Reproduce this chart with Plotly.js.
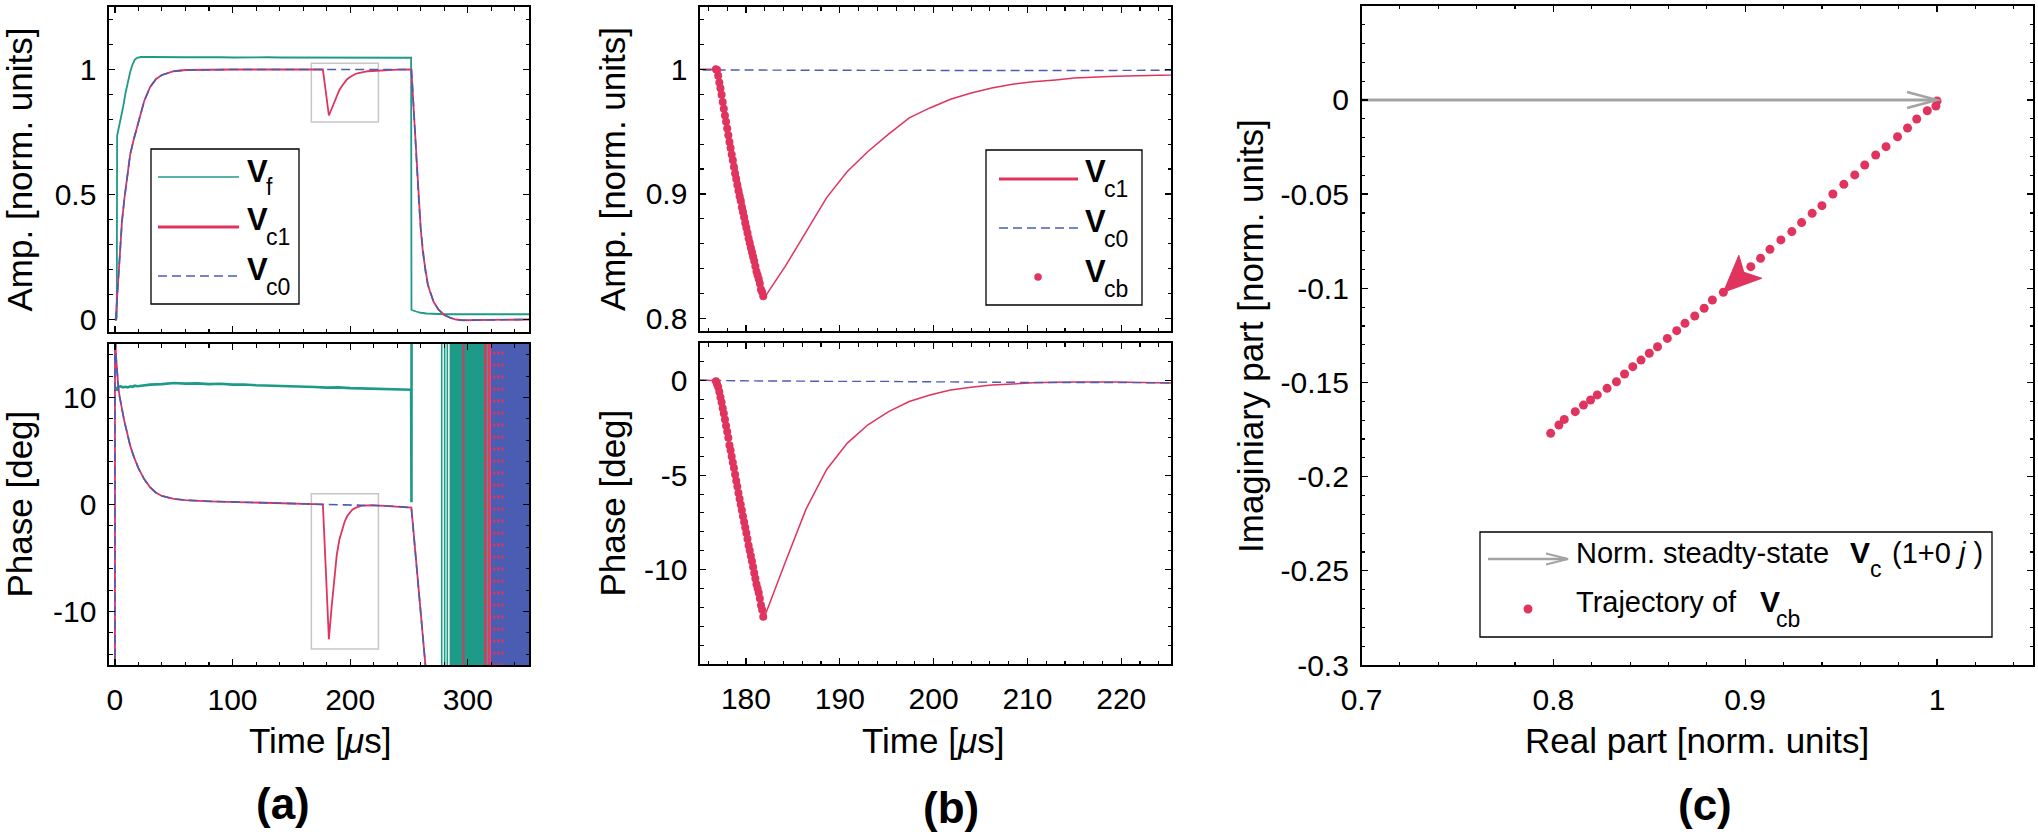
<!DOCTYPE html>
<html>
<head>
<meta charset="utf-8">
<script src="https://cdn.plot.ly/plotly-3.0.1.min.js"></script>
<style>html,body{margin:0;padding:0;background:#fff;}#chart{width:2038px;height:838px;}</style>
</head>
<body>
<div id="chart"></div>
<script>
// ---------- cavity voltages: common time base (µs) ----------
const tC = [0, 0.15, 0.3, 0.4, 0.7, 1, 2, 3, 4, 6, 8, 10, 13, 16, 20, 25, 30, 35, 40, 50, 60, 80, 100, 120, 150,
  175.2, 176.8, 179, 181.9, 184.2, 186.4, 188.6, 190.8, 193, 195.2, 197.4, 199.6, 201.8, 204, 206.2, 208.4, 210.6, 213, 215, 219.4, 222, 225.4,
  230, 240, 252, 253, 254, 255, 256.5, 258, 260, 262, 264, 266, 268, 271, 275, 280, 285, 290, 295, 300, 310, 330, 352];

// unloaded cavity voltage Vc0
const vc0Amp = [0, 0, 0, 0, 0, 0.02, 0.1, 0.19, 0.27, 0.39, 0.48, 0.56, 0.66, 0.72, 0.79, 0.875, 0.93, 0.962, 0.978, 0.993, 0.998, 1, 1, 1, 1,
  1, 1, 0.9997, 0.9994, 0.9993, 0.9995, 0.9992, 0.9993, 0.9991, 0.9993, 0.9991, 0.9992, 0.999, 0.9991, 0.999, 0.9992, 0.999, 0.9991, 0.999, 0.9991, 0.9994, 1.0003,
  1, 1, 1, 0.93, 0.84, 0.76, 0.64, 0.5, 0.36, 0.26, 0.19, 0.14, 0.11, 0.07, 0.04, 0.018, 0.007, 0, -0.003, -0.003, -0.001, 0, 0];
const vc0Phase = [-170, 170, -165, 15.5, 14.6, 13.8, 12.0, 10.9, 10.1, 8.9, 7.8, 6.9, 5.5, 4.5, 3.4, 2.35, 1.6, 1.1, 0.8, 0.52, 0.4, 0.3, 0.23, 0.17, 0.08,
  0.03, 0.01, 0, -0.01, 0, -0.02, -0.03, -0.02, -0.04, -0.03, -0.05, -0.04, -0.06, -0.07, -0.06, -0.08, -0.09, -0.08, -0.1, -0.09, -0.1, -0.1,
  -0.12, -0.18, -0.3, -1.5, -2.8, -4.0, -5.8, -7.7, -10.1, -12.6, -15.1, -17.6, -20, -23.7, -28.6, -34.8, null, null, null, null, null, null, null];

// beam-loaded cavity voltage Vc1
const vc1Amp = [0, 0, 0, 0, 0, 0.02, 0.1, 0.19, 0.27, 0.39, 0.48, 0.56, 0.66, 0.72, 0.79, 0.875, 0.93, 0.962, 0.978, 0.993, 0.998, 1, 1, 1, 1,
  1, 1, 0.921, 0.816, 0.842, 0.870, 0.897, 0.918, 0.934, 0.948, 0.961, 0.969, 0.976, 0.981, 0.985, 0.988, 0.990, 0.9915, 0.993, 0.9944, 0.995, 0.9963,
  0.998, 0.9995, 1, 0.93, 0.84, 0.76, 0.64, 0.5, 0.36, 0.26, 0.19, 0.14, 0.11, 0.07, 0.04, 0.018, 0.007, 0, -0.003, -0.003, -0.001, 0, 0];
const vc1Phase = [-170, 170, -165, 15.5, 14.6, 13.8, 12.0, 10.9, 10.1, 8.9, 7.8, 6.9, 5.5, 4.5, 3.4, 2.35, 1.6, 1.1, 0.8, 0.52, 0.4, 0.3, 0.23, 0.17, 0.08,
  0.03, 0.01, -5.4, -12.6, -9.6, -6.8, -4.7, -3.3, -2.33, -1.63, -1.1, -0.75, -0.49, -0.34, -0.23, -0.16, -0.11, -0.08, -0.06, -0.07, -0.08, -0.1,
  -0.12, -0.18, -0.3, -1.5, -2.8, -4.0, -5.8, -7.7, -10.1, -12.6, -15.1, -17.6, -20, -23.7, -28.6, -34.8, null, null, null, null, null, null, null];

// ---------- forward voltage Vf ----------
const tF = [0, 1.2, 1.6, 1.9, 3, 5, 7, 9, 11, 13, 15, 17, 19, 22, 30, 40, 50, 60, 70, 80, 90, 100, 110, 120, 130, 140, 150, 160, 170, 180,
  190, 200, 210, 220, 230, 240, 251.8, 252.1, 252.4, 256, 260, 265, 270, 280, 300, 352];
const vfAmp = [0, 0, 0.01, 0.735, 0.76, 0.80, 0.85, 0.905, 0.95, 0.99, 1.02, 1.04, 1.047, 1.05, 1.05, 1.049, 1.05, 1.049, 1.049, 1.05, 1.049, 1.048,
  1.049, 1.048, 1.049, 1.048, 1.048, 1.049, 1.048, 1.047, 1.048, 1.048, 1.047, 1.048, 1.047, 1.047, 1.047, 0.04, 0.038, 0.032, 0.027, 0.024, 0.022, 0.021, 0.021, 0.021];
const vfPhase = [null, null, 10.6, 10.9, 11.0, 11.05, 10.95, 11.0, 10.95, 11.05, 11.0, 11.1, 11.05, 11.1, 11.2, 11.25, 11.35, 11.3, 11.32, 11.25, 11.28,
  11.2, 11.22, 11.15, 11.12, 11.05, 11.08, 11.0, 10.98, 10.92, 10.95, 10.88, 10.85, 10.78, 10.8, 10.74, 10.72, 0.2, 60, null, null, null, null, null, null, null];

// ---------- phase noise once the field has decayed ----------
const wrapLimits = [-180, 180];
const vfWrapT = [277.8, 280.3, 282.6];
const vfNoiseSpan = [284.5, 316.5];
const vc1WrapT = [296.3, 314.6, 317.2, 318.8];
const vc1StreakT = [322.5, 326, 329.5];
const vc0NoiseSpan = [319.5, 353];

// ---------- window enlarged in (b) ----------
const zoomT = [167, 224];
const zoomAmp = [0.79, 1.025];
const zoomPhase = [-13.5, 1.0];

// ---------- beam-induced voltage Vcb samples ----------
const cbT = [176.8, 176.92, 177.04, 177.16, 177.28, 177.4, 177.52, 177.64, 177.76, 177.88, 178.0, 178.12, 178.24, 178.36, 178.48,
  178.6, 178.72, 178.84, 178.96, 179.08, 179.2, 179.32, 179.44, 179.56, 179.68, 179.8, 179.92, 180.04, 180.16, 180.28, 180.4,
  180.52, 180.64, 180.76, 180.88, 181.0, 181.12, 181.24, 181.36, 181.48, 181.6, 181.72, 181.84];
const cbRe = [1.0, 0.9994, 0.9949, 0.9894, 0.9846, 0.9794, 0.9734, 0.968, 0.9623, 0.9571, 0.9514, 0.9457, 0.94, 0.9349, 0.9294,
  0.9243, 0.9186, 0.9129, 0.908, 0.9029, 0.8977, 0.8929, 0.8886, 0.8829, 0.8786, 0.8737, 0.8686, 0.8643, 0.8594, 0.8543, 0.85,
  0.8457, 0.8414, 0.8371, 0.8329, 0.828, 0.8229, 0.8194, 0.8157, 0.8114, 0.8057, 0.8029, 0.7986];
const cbIm = [-0.0005, -0.0032, -0.0057, -0.0101, -0.0149, -0.0195, -0.0248, -0.0292, -0.0345, -0.0398, -0.0448, -0.0499, -0.0561, -0.0602, -0.0651,
  -0.0699, -0.0743, -0.0793, -0.0841, -0.0885, -0.0935, -0.0977, -0.1021, -0.1062, -0.1106, -0.1147, -0.1186, -0.1225, -0.1266, -0.131, -0.1345,
  -0.1381, -0.1416, -0.1455, -0.1496, -0.1531, -0.1566, -0.1593, -0.162, -0.1655, -0.1696, -0.1726, -0.177];
const arrowSample = 22;   // trajectory sample carrying the direction arrow

// normalised steady-state phasor 1 + 0j
const ssRe = [0, 1];
const ssIm = [0, 0];

// ---------- tick labels ----------
const timeTicksA = [0, 100, 200, 300];
const timeTicksB = [180, 190, 200, 210, 220];
const ampTicksA = [0, 0.5, 1],  ampLabelsA = ['0', '0.5', '1'];
const phaseTicksA = [-10, 0, 10], phaseLabelsA = ['-10', '0', '10'];
const ampTicksB = [0.8, 0.9, 1], ampLabelsB = ['0.8', '0.9', '1'];
const phaseTicksB = [-10, -5, 0], phaseLabelsB = ['-10', '-5', '0'];
const reTicks = [0.7, 0.8, 0.9, 1], reLabels = ['0.7', '0.8', '0.9', '1'];
const imTicks = [-0.3, -0.25, -0.2, -0.15, -0.1, -0.05, 0], imLabels = ['-0.3', '-0.25', '-0.2', '-0.15', '-0.1', '-0.05', '0'];

// ---------- styling ----------
const W = 2038, H = 838;
const FONT = 'Liberation Sans, Arial, Helvetica, sans-serif';
const TEAL = '#1e9a88', CRIMSON = '#e0335e', BLUE = '#4a5db3';
const GRAYBOX = '#c6c6c6', GRAYARROW = '#a3a3a3';
const DASH = '9px,5px';
const px = v => v / W;
const py = v => 1 - v / H;

// magnitude / phase of the trajectory samples for panel (b)
const cbAmp = cbRe.map((r, i) => Math.hypot(r, cbIm[i]));
const cbPhase = cbRe.map((r, i) => Math.atan2(cbIm[i], r) * 180 / Math.PI);

function wraps(ts) {
  const x = [], y = [];
  ts.forEach(t => { x.push(t, t, null); y.push(wrapLimits[0], wrapLimits[1], null); });
  return { x, y };
}
function line(x, y, xa, ya, color, width, dash) {
  return { type: 'scatter', mode: 'lines', x, y, xaxis: xa, yaxis: ya, hoverinfo: 'skip',
           line: { color, width, dash: dash || 'solid' }, connectgaps: false };
}

const vfW = wraps(vfWrapT), vc1W = wraps(vc1WrapT), vc1S = wraps(vc1StreakT);

const traces = [
  // (a) amplitude
  line(tF, vfAmp, 'x', 'y', TEAL, 1.8),
  line(tC, vc1Amp, 'x', 'y', CRIMSON, 1.8),
  line(tC, vc0Amp, 'x', 'y', BLUE, 1.6, DASH),
  // (a) phase
  line(tF, vfPhase, 'x2', 'y2', TEAL, 2.6),
  line(vfW.x, vfW.y, 'x2', 'y2', TEAL, 1.6),
  line(tC, vc1Phase, 'x2', 'y2', CRIMSON, 1.8),
  line(vc1W.x, vc1W.y, 'x2', 'y2', CRIMSON, 1.8),
  line(tC, vc0Phase, 'x2', 'y2', BLUE, 1.6, DASH),
  line(vc1S.x, vc1S.y, 'x2', 'y2', CRIMSON, 2.2, '3px,9px'),
  // (b) amplitude
  line(tC, vc1Amp, 'x3', 'y3', CRIMSON, 1.5),
  line(tC, vc0Amp, 'x3', 'y3', BLUE, 1.4, DASH),
  { type: 'scatter', mode: 'markers', x: cbT, y: cbAmp, xaxis: 'x3', yaxis: 'y3', hoverinfo: 'skip',
    marker: { color: CRIMSON, size: 8, line: { width: 0 } } },
  // (b) phase
  line(tC, vc1Phase, 'x4', 'y4', CRIMSON, 1.5),
  line(tC, vc0Phase, 'x4', 'y4', BLUE, 1.4, DASH),
  { type: 'scatter', mode: 'markers', x: cbT, y: cbPhase, xaxis: 'x4', yaxis: 'y4', hoverinfo: 'skip',
    marker: { color: CRIMSON, size: 8, line: { width: 0 } } },
  // (c) complex plane
  line(ssRe, ssIm, 'x5', 'y5', GRAYARROW, 3),
  { type: 'scatter', mode: 'markers', x: cbRe, y: cbIm, xaxis: 'x5', yaxis: 'y5', hoverinfo: 'skip',
    marker: { color: CRIMSON, size: 9, line: { width: 0 } } }
];

function axis(domain, range, anchor, vals, text, minorStart, minorStep, showLabels, standoff) {
  return {
    domain, range, anchor, autorange: false, fixedrange: true,
    showline: true, linecolor: '#000', linewidth: 1.6, mirror: 'allticks',
    ticks: 'inside', ticklen: 6, tickwidth: 1.3, tickcolor: '#000',
    tickmode: 'array', tickvals: vals, ticktext: text, showticklabels: showLabels,
    tickfont: { family: FONT, size: 30, color: '#000' },
    ticklabelstandoff: standoff,
    showgrid: false, zeroline: false,
    minor: { tickmode: 'linear', tick0: minorStart, dtick: minorStep, ticks: 'inside',
             ticklen: 3.5, tickwidth: 1.1, tickcolor: '#000', showgrid: false }
  };
}
const tA = timeTicksA.map(String), tB = timeTicksB.map(String);
const XOFF = 7, YOFF = 5;

// panel geometry (pixels)
const XA = [px(109), px(529)], XB = [px(700), px(1171)], XC = [px(1361.5), px(2033)];
const YTOP = [py(332), py(7)], YBOT = [py(665), py(344)];
const YTOPB = [py(331), py(7)], YBOTB = [py(664), py(343)];
const YC = [py(665), py(5.8)];

// ---------- shapes ----------
function boxPx(x0, y0, x1, y1) {
  return { type: 'rect', xref: 'paper', yref: 'paper', x0: px(x0), x1: px(x1), y0: py(y1), y1: py(y0),
           line: { color: '#000', width: 1.3 }, fillcolor: '#fff', layer: 'above' };
}
function segPx(x0, y0, x1, y1, ln) {
  return { type: 'line', xref: 'paper', yref: 'paper', x0: px(x0), x1: px(x1), y0: py(y0), y1: py(y1), line: ln, layer: 'above' };
}
function dotPx(cx, cy, d) {
  return { type: 'circle', xref: 'paper', yref: 'paper', x0: px(cx - d / 2), x1: px(cx + d / 2), y0: py(cy + d / 2), y1: py(cy - d / 2),
           fillcolor: CRIMSON, line: { width: 0 }, layer: 'above' };
}
function pathPx(pts, ln) {
  return { type: 'path', xref: 'paper', yref: 'paper', layer: 'above', line: ln,
           path: pts.map((p, i) => (i ? 'L' : 'M') + px(p[0]) + ',' + py(p[1])).join('') };
}
function zoomRect(xr, yr, yRange) {
  return { type: 'rect', xref: xr, yref: yr, x0: zoomT[0], x1: zoomT[1], y0: yRange[0], y1: yRange[1],
           line: { color: GRAYBOX, width: 1.5 }, layer: 'below' };
}
// solid block of wrapped phase noise
function noiseBlock(span, color) {
  return { type: 'rect', xref: 'x2', yref: 'y2', x0: span[0], x1: span[1], y0: wrapLimits[0], y1: wrapLimits[1],
           fillcolor: color, opacity: 1, line: { width: 0 }, layer: 'below' };
}

const shapes = [
  zoomRect('x', 'y', zoomAmp),
  zoomRect('x2', 'y2', zoomPhase),
  noiseBlock(vfNoiseSpan, TEAL),
  noiseBlock(vc0NoiseSpan, BLUE),
  // arrow head of the steady-state phasor
  { type: 'path', xref: 'x5', yref: 'y5', xsizemode: 'pixel', ysizemode: 'pixel',
    xanchor: ssRe[1], yanchor: ssIm[1], path: 'M-30,8L0,0L-30,-8',
    line: { color: GRAYARROW, width: 2.5 }, layer: 'above' },
  // direction of travel along the trajectory
  { type: 'path', xref: 'x5', yref: 'y5', xsizemode: 'pixel', ysizemode: 'pixel',
    xanchor: cbRe[arrowSample], yanchor: cbIm[arrowSample], path: 'M0,0L15.5,37L20.5,20L38.5,14Z',
    fillcolor: CRIMSON, line: { color: CRIMSON, width: 1 }, layer: 'above' },
  // legend (a)
  boxPx(151, 149, 299, 304),
  segPx(158, 177, 239, 177, { color: TEAL, width: 1.5 }),
  segPx(158, 227, 239, 227, { color: CRIMSON, width: 3 }),
  segPx(158, 276, 239, 276, { color: BLUE, width: 1.5, dash: DASH }),
  // legend (b)
  boxPx(986, 150, 1142, 305),
  segPx(999, 179, 1078, 179, { color: CRIMSON, width: 3 }),
  segPx(999, 228, 1078, 228, { color: BLUE, width: 1.5, dash: DASH }),
  dotPx(1038, 277, 7.5),
  // legend (c)
  boxPx(1480, 532, 1992, 637),
  segPx(1488, 559, 1567, 559, { color: GRAYARROW, width: 2.5 }),
  pathPx([[1546, 553.5], [1568, 559], [1546, 564.5]], { color: GRAYARROW, width: 2.2 }),
  dotPx(1528, 609, 9)
];

// ---------- text ----------
function textAt(text, xLeft, baseline, size, bold) {
  return { text: bold ? '<b>' + text + '</b>' : text, xref: 'paper', yref: 'paper',
           x: px(xLeft - 2), y: py(baseline - 0.3465 * size), xanchor: 'left', yanchor: 'middle',
           showarrow: false, font: { family: FONT, size, color: '#000' } };
}
function centered(text, xc, yc, size, angle, bold) {
  return { text: bold ? '<b>' + text + '</b>' : text, xref: 'paper', yref: 'paper', x: px(xc), y: py(yc),
           xanchor: 'center', yanchor: 'middle', textangle: angle || 0, showarrow: false,
           font: { family: FONT, size, color: '#000' } };
}

const annotations = [
  centered('Amp. [norm. units]', 19, 169.5, 35, -90),
  centered('Phase [deg]', 19, 504.5, 35, -90),
  centered('Time [<i>μ</i>s]', 319.5, 740, 35),
  centered('(a)', 283, 803, 44, 0, true),
  centered('Amp. [norm. units]', 612, 169, 35, -90),
  centered('Phase [deg]', 612, 503.5, 35, -90),
  centered('Time [<i>μ</i>s]', 933.3, 740, 35),
  centered('(b)', 951, 807, 44, 0, true),
  centered('Imaginiary part [norm. units]', 1250, 336, 35, -90),
  centered('Real part [norm. units]', 1696.5, 740, 35),
  centered('(c)', 1705, 804, 44, 0, true),
  // legend (a)
  textAt('V', 246.6, 182, 31, true), textAt('f', 265.5, 195, 23),
  textAt('V', 246.6, 230, 31, true), textAt('c1', 265.5, 245, 23),
  textAt('V', 246.6, 280, 31, true), textAt('c0', 265.5, 295, 23),
  // legend (b)
  textAt('V', 1085, 182, 31, true), textAt('c1', 1103.5, 197, 23),
  textAt('V', 1085, 232, 31, true), textAt('c0', 1103.5, 247, 23),
  textAt('V', 1085, 282, 31, true), textAt('cb', 1103.5, 297, 23),
  // legend (c)
  textAt('Norm. steadty-state', 1576, 563, 29),
  textAt('V', 1850, 563, 30, true), textAt('c', 1869.6, 577, 23),
  textAt('(1+0 <i>j</i> )', 1891.5, 563, 29),
  textAt('Trajectory of', 1576, 611.7, 29),
  textAt('V', 1759.7, 611.7, 30, true), textAt('cb', 1776, 626.7, 23)
];

const layout = {
  width: W, height: H, autosize: false,
  margin: { l: 0, r: 0, t: 0, b: 0, pad: 0 },
  paper_bgcolor: '#fff', plot_bgcolor: '#fff',
  showlegend: false, hovermode: false,
  font: { family: FONT, color: '#000' },
  xaxis:  axis(XA, [-5, 352], 'y', timeTicksA, tA, 0, 20, false, XOFF),
  yaxis:  axis(YTOP, [-0.05, 1.25], 'x', ampTicksA, ampLabelsA, 0, 0.1, true, YOFF),
  xaxis2: axis(XA, [-5, 352], 'y2', timeTicksA, tA, 0, 20, true, XOFF),
  yaxis2: axis(YBOT, [-15, 15], 'x2', phaseTicksA, phaseLabelsA, 0, 2, true, YOFF),
  xaxis3: axis(XB, [175.1, 225.3], 'y3', timeTicksB, tB, 180, 2, false, XOFF),
  yaxis3: axis(YTOPB, [0.79, 1.05], 'x3', ampTicksB, ampLabelsB, 0.8, 0.02, true, YOFF),
  xaxis4: axis(XB, [175.1, 225.3], 'y4', timeTicksB, tB, 180, 2, true, XOFF),
  yaxis4: axis(YBOTB, [-15, 2], 'x4', phaseTicksB, phaseLabelsB, 0, 1, true, YOFF),
  xaxis5: axis(XC, [0.7, 1.05], 'y5', reTicks, reLabels, 0.7, 0.02, true, XOFF),
  yaxis5: axis(YC, [-0.3, 0.05], 'x5', imTicks, imLabels, 0, 0.01, true, YOFF),
  shapes, annotations
};

Plotly.newPlot('chart', traces, layout, { displayModeBar: false, staticPlot: true });
</script>
</body>
</html>
